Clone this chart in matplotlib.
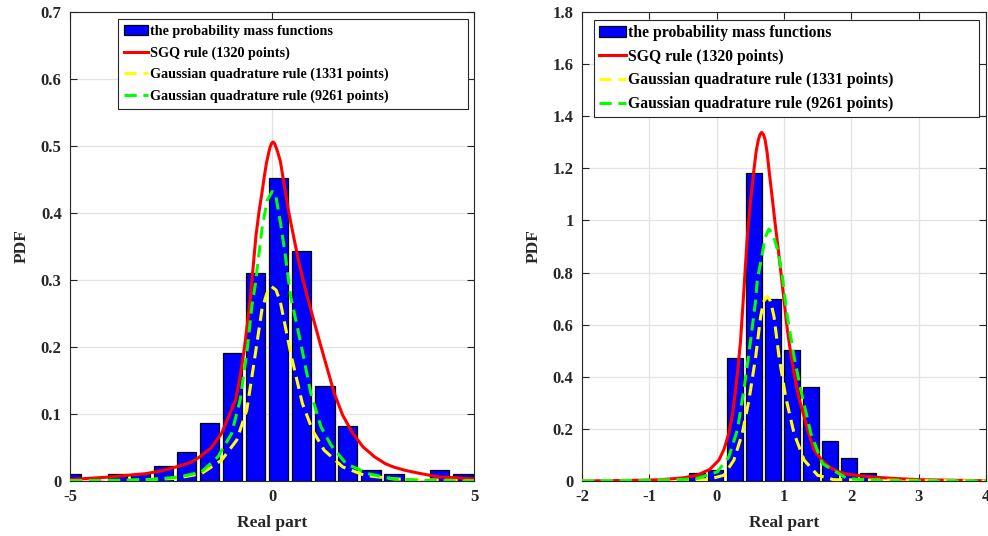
import matplotlib
matplotlib.use('Agg')
import matplotlib.pyplot as plt
from matplotlib.patches import Patch
from matplotlib.lines import Line2D

plt.rcParams['font.family'] = ['Liberation Serif', 'DejaVu Serif']
plt.rcParams['font.weight'] = 'bold'

# ---- left panel data ----
left_centers = [-4.96, -4.39, -3.82, -3.25, -2.68, -2.11, -1.55, -0.975, -0.41,
                0.167, 0.733, 1.31, 1.875, 2.45, 3.02, 3.59, 4.15, 4.725]
left_heights = [0.011, 0.0, 0.011, 0.011, 0.022, 0.0435, 0.087, 0.191, 0.311,
                0.4525, 0.3435, 0.142, 0.082, 0.016, 0.011, 0.0, 0.016, 0.011]

left_sgq_x = [-5, -4.54, -4.0, -3.5, -3.125, -2.75, -2.375, -2.0, -1.79, -1.5, -1.25, -1.05,
              -0.9, -0.78, -0.69, -0.6, -0.54, -0.47, -0.4, -0.32, -0.25, -0.19, -0.14,
              -0.09, -0.05, -0.01, 0.025, 0.06, 0.1, 0.15, 0.21, 0.3, 0.415, 0.54, 0.665,
              0.78, 0.89, 1.05, 1.21, 1.38, 1.54, 1.75, 2.0, 2.25, 2.54, 2.8, 3.0, 3.29,
              3.6, 4.125, 4.5, 5]
left_sgq_y = [0.002, 0.004, 0.006, 0.009, 0.011, 0.015, 0.021, 0.028, 0.036, 0.05, 0.071,
              0.1, 0.121, 0.16, 0.196, 0.24, 0.271, 0.318, 0.365, 0.403, 0.43, 0.455, 0.474,
              0.488, 0.498, 0.504, 0.506, 0.504, 0.498, 0.489, 0.476, 0.442, 0.401, 0.363,
              0.326, 0.297, 0.271, 0.236, 0.201, 0.165, 0.131, 0.098, 0.071, 0.051, 0.036,
              0.026, 0.021, 0.016, 0.012, 0.006, 0.005, 0.003]

left_g1331_x = [-5, -3.7, -2.375, -1.75, -1.25, -0.875, -0.625, -0.46, -0.25, -0.125,
                -0.03, 0.1, 0.21, 0.46, 0.75, 1.0, 1.29, 1.75, 2.29, 3.04, 5]
left_g1331_y = [0.0, 0.0005, 0.004, 0.011, 0.031, 0.061, 0.106, 0.171, 0.256, 0.281,
                0.291, 0.285, 0.266, 0.191, 0.116, 0.076, 0.046, 0.021, 0.0085, 0.003, 0.0]

left_g9261_x = [-5, -3.04, -2.29, -1.75, -1.34, -1.0, -0.79, -0.625, -0.5, -0.42, -0.25,
                -0.125, 0.0, 0.08, 0.21, 0.33, 0.46, 0.71, 0.96, 1.21, 1.46, 1.83,
                2.375, 2.96, 3.7, 5]
left_g9261_y = [0.0, 0.002, 0.006, 0.0135, 0.036, 0.071, 0.121, 0.191, 0.261, 0.291, 0.376,
                0.418, 0.432, 0.43, 0.385, 0.336, 0.276, 0.206, 0.131, 0.081, 0.0535, 0.026,
                0.011, 0.0035, 0.001, 0.0]

# ---- right panel data ----
right_centers = [-0.296, -0.016, 0.269, 0.55, 0.835, 1.118, 1.40, 1.683, 1.966, 2.248]
right_heights = [0.032, 0.044, 0.471, 1.182, 0.70, 0.504, 0.3615, 0.1527, 0.0873, 0.032]

right_sgq_x = [-2, -1.13, -0.835, -0.5, -0.29, -0.1, 0.033, 0.11, 0.18, 0.235, 0.281, 0.32,
               0.356, 0.405, 0.455, 0.504, 0.554, 0.59, 0.62, 0.645, 0.668, 0.695, 0.72,
               0.75, 0.777, 0.82, 0.862, 0.91, 0.95, 1.0, 1.05, 1.1, 1.15, 1.22, 1.30,
               1.37, 1.447, 1.56, 1.695, 1.82, 1.94, 2.2, 2.44, 2.7, 3.03, 3.5, 4]
right_sgq_y = [0.0, 0.003, 0.005, 0.012, 0.022, 0.045, 0.08, 0.122, 0.182, 0.255, 0.349,
               0.44, 0.541, 0.733, 0.938, 1.075, 1.195, 1.27, 1.31, 1.33, 1.338, 1.33, 1.31,
               1.26, 1.195, 1.1, 1.003, 0.9, 0.81, 0.695, 0.58, 0.49, 0.413, 0.32, 0.246,
               0.18, 0.12, 0.08, 0.05, 0.035, 0.026, 0.018, 0.013, 0.009, 0.005, 0.003, 0.001]

right_g1331_x = [-2, -0.14, 0.107, 0.256, 0.38, 0.48, 0.58, 0.653, 0.70, 0.753, 0.80,
                 0.852, 0.926, 1.025, 1.15, 1.30, 1.5, 1.74, 4]
right_g1331_y = [0.0, 0.005, 0.022, 0.08, 0.182, 0.31, 0.477, 0.631, 0.69, 0.708, 0.69,
                 0.631, 0.477, 0.323, 0.182, 0.08, 0.022, 0.005, 0.0]

right_g9261_x = [-2, -0.64, -0.29, 0.01, 0.18, 0.307, 0.405, 0.505, 0.58, 0.604, 0.68,
                 0.72, 0.777, 0.84, 0.917, 0.976, 1.05, 1.15, 1.25, 1.40, 1.57, 1.94, 2.5, 4]
right_g9261_y = [0.0, 0.003, 0.01, 0.035, 0.092, 0.195, 0.349, 0.541, 0.695, 0.772, 0.875,
                 0.935, 0.967, 0.945, 0.875, 0.785, 0.631, 0.477, 0.349, 0.182, 0.067, 0.009,
                 0.001, 0.0]

legend_labels = ['the probability mass functions', 'SGQ rule (1320 points)',
                 'Gaussian quadrature rule (1331 points)',
                 'Gaussian quadrature rule (9261 points)']

left_xticks = [-5, 0, 5]
left_yticks = [0, 0.1, 0.2, 0.3, 0.4, 0.5, 0.6, 0.7]
left_ytick_labels = ['0', '0.1', '0.2', '0.3', '0.4', '0.5', '0.6', '0.7']
right_xticks = [-2, -1, 0, 1, 2, 3, 4]
right_yticks = [0, 0.2, 0.4, 0.6, 0.8, 1.0, 1.2, 1.4, 1.6, 1.8]
right_ytick_labels = ['0', '0.2', '0.4', '0.6', '0.8', '1', '1.2', '1.4', '1.6', '1.8']

RED = '#ff0000'
YELLOW = '#ffff00'
GREEN = '#00ff00'
BLUE = '#0000ff'
LW = 2.2
DASH = (4, 2.2)


def draw_panel(ax, centers, heights, bar_w, curves, xlim, ylim, xticks, yticks,
               ytick_labels, leg_box, leg_size, leg_space, leg_pad):
    ax.bar(centers, heights, width=bar_w, color=BLUE, edgecolor='black',
           linewidth=0.9, zorder=2)
    (sx, sy), (yx, yy), (gx, gy) = curves
    ax.plot(sx, sy, color=RED, linewidth=LW, zorder=3)
    ax.plot(yx, yy, color=YELLOW, linewidth=LW, dashes=DASH, zorder=4)
    ax.plot(gx, gy, color=GREEN, linewidth=LW, dashes=DASH, zorder=5)

    ax.set_xlim(*xlim)
    ax.set_ylim(*ylim)
    ax.set_xticks(xticks)
    ax.set_xticklabels([str(t) for t in xticks])
    ax.set_yticks(yticks)
    ax.set_yticklabels(ytick_labels)
    ax.grid(True, color='#e3e3e3', linewidth=0.9, zorder=0)
    ax.set_axisbelow(True)
    ax.tick_params(direction='in', length=5, width=0.8, top=True, right=True,
                   labelsize=12, colors='#262626', pad=6)
    for lab in ax.get_xticklabels() + ax.get_yticklabels():
        lab.set_fontweight('bold')
    for sp in ax.spines.values():
        sp.set_color('#262626')
        sp.set_linewidth(0.8)
    ax.set_xlabel('Real part', fontsize=12.5, fontweight='bold', color='#262626', labelpad=7)
    ax.set_ylabel('PDF', fontsize=12.5, fontweight='bold', color='#262626', labelpad=8)

    handles = [Patch(facecolor=BLUE, edgecolor='black', linewidth=0.9),
               Line2D([], [], color=RED, linewidth=LW),
               Line2D([], [], color=YELLOW, linewidth=LW, dashes=DASH),
               Line2D([], [], color=GREEN, linewidth=LW, dashes=DASH)]
    leg = ax.legend(handles, legend_labels, loc='upper left', bbox_to_anchor=leg_box,
                    mode='expand', fontsize=leg_size, frameon=True, fancybox=False,
                    framealpha=1, edgecolor='#262626', handlelength=1.75,
                    handletextpad=0.1, borderpad=leg_pad, labelspacing=leg_space,
                    borderaxespad=0)
    leg.get_frame().set_linewidth(0.8)
    for t in leg.get_texts():
        t.set_fontweight('bold')


fig = plt.figure(figsize=(9.88, 5.36), dpi=100)
ax1 = fig.add_axes([0.0709, 0.1026, 0.4089, 0.875])
ax2 = fig.add_axes([0.589, 0.1026, 0.409, 0.875])

draw_panel(ax1, left_centers, left_heights, 0.475,
           [(left_sgq_x, left_sgq_y), (left_g1331_x, left_g1331_y),
            (left_g9261_x, left_g9261_y)],
           (-5, 5), (0, 0.7), left_xticks, left_yticks, left_ytick_labels,
           (0.118, 0.0, 0.868, 0.985), 10.2, 0.58, 0.42)

draw_panel(ax2, right_centers, right_heights, 0.233,
           [(right_sgq_x, right_sgq_y), (right_g1331_x, right_g1331_y),
            (right_g9261_x, right_g9261_y)],
           (-2, 4), (0, 1.8), right_xticks, right_yticks, right_ytick_labels,
           (0.030, 0.0, 0.953, 0.983), 11.3, 0.5, 0.3)

fig.savefig('out.png', dpi=100)
plt.close(fig)
